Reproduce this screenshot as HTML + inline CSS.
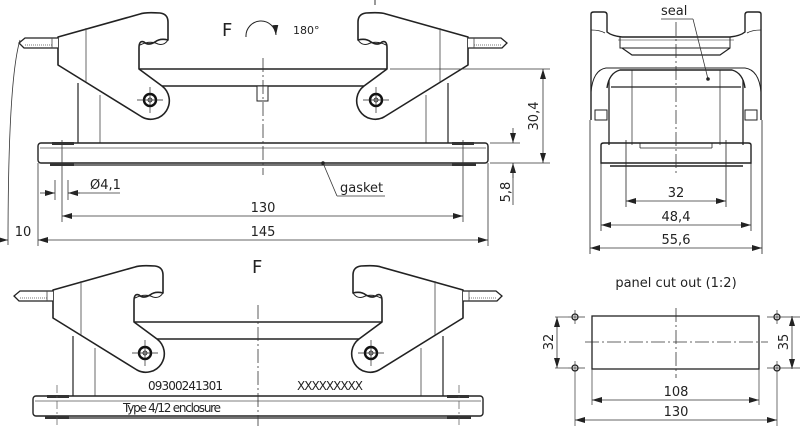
<!DOCTYPE html>
<html><head><meta charset="utf-8"><style>
html,body{margin:0;padding:0;background:#fff;}
svg{display:block;}
text{font-family:"DejaVu Sans","Liberation Sans",sans-serif;fill:#222;}
</style></head><body>
<svg width="800" height="426" viewBox="0 0 800 426" xmlns="http://www.w3.org/2000/svg">
<defs>
<marker id="a" viewBox="0 0 10 6" refX="10" refY="3" markerWidth="10" markerHeight="6" orient="auto-start-reverse" markerUnits="userSpaceOnUse"><path d="M0,0 L10,3 L0,6 z" fill="#222"/></marker>
<g id="lever">
<path d="M58,37 L140,14 Q145,12 160,13 Q168,14 168,22 L168,40 Q160,38 155,42 Q148,46 144,42 Q139,40 139,48 L139,69 L162,86 A18.5,18.5 0 0 1 142,117 L58,65 Z" fill="#fff" stroke="#222" stroke-width="1.6" stroke-linejoin="round"/>
<path d="M140,45 Q150,40 158,44 Q164,46 168,40" fill="none" stroke="#222" stroke-width="1"/>
<line x1="86" y1="28" x2="86" y2="82" stroke="#444" stroke-width="0.8"/>
<path d="M58,38 L25,38 L19,43 L24,48 L58,48" fill="#fff" stroke="#222" stroke-width="1.3"/>
<line x1="25" y1="45" x2="52" y2="45" stroke="#777" stroke-width="1" stroke-dasharray="1 1"/>
<line x1="52" y1="38" x2="52" y2="48" stroke="#444" stroke-width="0.8"/>
<circle cx="150" cy="100" r="6" fill="none" stroke="#111" stroke-width="2.4"/>
<circle cx="150" cy="100" r="2" fill="none" stroke="#111" stroke-width="0.8"/>
<line x1="137" y1="100" x2="163" y2="100" stroke="#222" stroke-width="0.7"/>
<line x1="150" y1="87" x2="150" y2="113" stroke="#222" stroke-width="0.7"/>
</g>
<g id="enc">
<line x1="78" y1="83" x2="78" y2="143" stroke="#222" stroke-width="1.2"/>
<line x1="100" y1="95" x2="100" y2="143" stroke="#444" stroke-width="0.8"/>
<line x1="448" y1="83" x2="448" y2="143" stroke="#222" stroke-width="1.2"/>
<line x1="426" y1="95" x2="426" y2="143" stroke="#444" stroke-width="0.8"/>
<line x1="139" y1="69" x2="387" y2="69" stroke="#222" stroke-width="1.6"/>
<line x1="160" y1="86" x2="366" y2="86" stroke="#222" stroke-width="1.6"/>
<use href="#lever"/>
<use href="#lever" transform="matrix(-1,0,0,1,526,0)"/>
<rect x="38" y="143" width="450" height="20" rx="3" fill="none" stroke="#222" stroke-width="1.4"/>
<line x1="40" y1="148" x2="486" y2="148" stroke="#555" stroke-width="0.7"/>
<line x1="50" y1="165" x2="476" y2="165" stroke="#222" stroke-width="1.2"/>
<rect x="50" y="163" width="24" height="3" fill="#333"/>
<rect x="452" y="163" width="24" height="3" fill="#333"/>
<rect x="52" y="142" width="22" height="3" fill="#333"/>
<rect x="452" y="142" width="22" height="3" fill="#333"/>
</g>
</defs>

<!-- TOP VIEW -->
<use href="#enc"/>
<rect x="257" y="86" width="11" height="15" fill="#fff" stroke="#222" stroke-width="1"/>
<line x1="263" y1="58" x2="263" y2="175" stroke="#333" stroke-width="0.8" stroke-dasharray="14 3 2 3"/>
<line x1="375" y1="0" x2="375" y2="5" stroke="#333" stroke-width="1"/>
<text x="222" y="36" font-size="18">F</text>
<path d="M246,37 A11,11 0 0 1 276,35" fill="none" stroke="#222" stroke-width="1" marker-end="url(#a)"/>
<text x="293" y="34" font-size="11">180°</text>
<!-- dims top -->
<path d="M20,40 Q8,80 8,245" fill="none" stroke="#333" stroke-width="0.8"/>
<line x1="38" y1="163" x2="38" y2="246" stroke="#333" stroke-width="0.8"/>
<line x1="488" y1="163" x2="488" y2="246" stroke="#333" stroke-width="0.8"/>
<line x1="62" y1="140" x2="62" y2="222" stroke="#333" stroke-width="0.8"/>
<line x1="463" y1="140" x2="463" y2="222" stroke="#333" stroke-width="0.8"/>
<line x1="55" y1="180" x2="55" y2="200" stroke="#333" stroke-width="0.8"/>
<line x1="68" y1="180" x2="68" y2="200" stroke="#333" stroke-width="0.8"/>
<line x1="40" y1="193" x2="55" y2="193" stroke="#333" stroke-width="0.8" marker-end="url(#a)"/>
<line x1="80" y1="193" x2="68" y2="193" stroke="#333" stroke-width="0.8" marker-end="url(#a)"/>
<line x1="68" y1="193" x2="120" y2="193" stroke="#333" stroke-width="0.8"/>
<text x="90" y="189" font-size="13">Ø4,1</text>
<line x1="62" y1="216" x2="463" y2="216" stroke="#333" stroke-width="0.8" marker-start="url(#a)" marker-end="url(#a)"/>
<text x="263" y="212" font-size="13" text-anchor="middle">130</text>
<line x1="38" y1="240" x2="488" y2="240" stroke="#333" stroke-width="0.8" marker-start="url(#a)" marker-end="url(#a)"/>
<text x="263" y="236" font-size="13" text-anchor="middle">145</text>
<line x1="0" y1="240" x2="8" y2="240" stroke="#333" stroke-width="0.8" marker-end="url(#a)"/>
<text x="23" y="236" font-size="13" text-anchor="middle">10</text>
<line x1="323" y1="163" x2="337" y2="196" stroke="#333" stroke-width="0.8"/>
<circle cx="323" cy="163" r="1.8" fill="#222"/>
<line x1="337" y1="196" x2="385" y2="196" stroke="#333" stroke-width="0.8"/>
<text x="340" y="192" font-size="13">gasket</text>
<line x1="390" y1="69" x2="550" y2="69" stroke="#333" stroke-width="0.8"/>
<line x1="490" y1="163" x2="550" y2="163" stroke="#333" stroke-width="0.8"/>
<line x1="490" y1="143" x2="520" y2="143" stroke="#333" stroke-width="0.8"/>
<line x1="543" y1="69" x2="543" y2="163" stroke="#333" stroke-width="0.8" marker-start="url(#a)" marker-end="url(#a)"/>
<text transform="translate(538,116) rotate(-90)" font-size="13" text-anchor="middle">30,4</text>
<line x1="513" y1="128" x2="513" y2="143" stroke="#333" stroke-width="0.8" marker-end="url(#a)"/>
<line x1="513" y1="178" x2="513" y2="163" stroke="#333" stroke-width="0.8" marker-end="url(#a)"/>
<line x1="513" y1="163" x2="513" y2="205" stroke="#333" stroke-width="0.8"/>
<text transform="translate(510,192) rotate(-90)" font-size="13" text-anchor="middle">5,8</text>

<!-- SIDE VIEW -->
<g stroke="#222" fill="none">
<path d="M591,120 L591,14 Q591,12 594,12 L604,12 Q607,12 607,15 L607,32 Q612,36 622,37 L730,37 Q740,36 745,32 L745,15 Q745,12 748,12 L758,12 Q761,12 761,14 L761,120" stroke-width="1.4"/>
<path d="M591,30 Q600,30 605,33" stroke-width="0.8"/>
<path d="M761,30 Q752,30 747,33" stroke-width="0.8"/>
<path d="M620,37 L620,48 L730,48 L730,37" stroke-width="1"/>
<path d="M622,48 L632,55 L720,55 L730,48" stroke-width="1.2"/>
<line x1="618" y1="40" x2="734" y2="40" stroke-width="0.6"/>
<path d="M591,92 Q593,70 606,68 L745,68 Q759,70 761,92" stroke-width="1"/>
<path d="M607,88 Q609,73 620,70 L732,70 Q743,73 745,88" stroke-width="1.4"/>
<line x1="611" y1="87" x2="741" y2="87" stroke-width="1.2"/>
<line x1="609" y1="80" x2="609" y2="145" stroke-width="1.3"/>
<line x1="743" y1="80" x2="743" y2="145" stroke-width="1.3"/>
<line x1="632" y1="70" x2="632" y2="145" stroke-width="0.7"/>
<line x1="720" y1="70" x2="720" y2="145" stroke-width="0.7"/>
<rect x="595" y="110" width="12" height="10" stroke-width="1"/>
<rect x="745" y="110" width="12" height="10" stroke-width="1"/>
<path d="M601,145 L601,163 L751,163 L751,145 Q751,143 748,143 L604,143 Q601,143 601,145 Z" stroke-width="1.4"/>
<line x1="640" y1="143" x2="640" y2="148" stroke-width="0.8"/>
<line x1="640" y1="148" x2="712" y2="148" stroke-width="0.8"/>
<line x1="712" y1="143" x2="712" y2="148" stroke-width="0.8"/>
<line x1="610" y1="166" x2="743" y2="166" stroke-width="1.4"/>
<line x1="626" y1="140" x2="626" y2="207" stroke-width="0.8"/>
<line x1="726" y1="140" x2="726" y2="207" stroke-width="0.8"/>
<line x1="601" y1="163" x2="601" y2="231" stroke-width="0.8"/>
<line x1="751" y1="163" x2="751" y2="231" stroke-width="0.8"/>
<line x1="590" y1="120" x2="590" y2="254" stroke-width="0.8"/>
<line x1="762" y1="120" x2="762" y2="254" stroke-width="0.8"/>
</g>
<line x1="676" y1="22" x2="676" y2="176" stroke="#333" stroke-width="0.8" stroke-dasharray="14 3 2 3"/>
<line x1="626" y1="201" x2="726" y2="201" stroke="#333" stroke-width="0.8" marker-start="url(#a)" marker-end="url(#a)"/>
<text x="676" y="197" font-size="13" text-anchor="middle">32</text>
<line x1="601" y1="225" x2="751" y2="225" stroke="#333" stroke-width="0.8" marker-start="url(#a)" marker-end="url(#a)"/>
<text x="676" y="221" font-size="13" text-anchor="middle">48,4</text>
<line x1="590" y1="248" x2="762" y2="248" stroke="#333" stroke-width="0.8" marker-start="url(#a)" marker-end="url(#a)"/>
<text x="676" y="244" font-size="13" text-anchor="middle">55,6</text>
<text x="661" y="15" font-size="13">seal</text>
<line x1="661" y1="19" x2="693" y2="19" stroke="#333" stroke-width="0.8"/>
<line x1="693" y1="19" x2="708" y2="79" stroke="#333" stroke-width="0.8"/>
<circle cx="708" cy="79" r="1.8" fill="#222"/>

<!-- BOTTOM VIEW -->
<g transform="translate(-5,253)">
<use href="#enc"/>
</g>
<line x1="258" y1="305" x2="258" y2="426" stroke="#333" stroke-width="0.8" stroke-dasharray="14 3 2 3"/>
<line x1="57" y1="385" x2="57" y2="426" stroke="#555" stroke-width="0.7" stroke-dasharray="8 3 2 3"/>
<line x1="459" y1="385" x2="459" y2="426" stroke="#555" stroke-width="0.7" stroke-dasharray="8 3 2 3"/>
<text x="252" y="273" font-size="18">F</text>
<text x="148" y="390" font-size="12" font-family="Liberation Sans" textLength="75">09300241301</text>
<text x="297" y="390" font-size="12" font-family="Liberation Sans" textLength="66">XXXXXXXXX</text>
<text x="123" y="412" font-size="12" font-family="Liberation Sans" textLength="98">Type 4/12 enclosure</text>

<!-- PANEL CUTOUT -->
<text x="676" y="287" font-size="13" text-anchor="middle">panel cut out (1:2)</text>
<rect x="592" y="316" width="167" height="53" fill="none" stroke="#222" stroke-width="1.3"/>
<line x1="585" y1="342" x2="768" y2="342" stroke="#333" stroke-width="0.8" stroke-dasharray="14 3 2 3"/>
<line x1="676" y1="308" x2="676" y2="378" stroke="#333" stroke-width="0.8" stroke-dasharray="14 3 2 3"/>
<g fill="#fff" stroke="#222" stroke-width="1.3">
<circle cx="575" cy="317" r="3"/><circle cx="575" cy="368" r="3"/>
<circle cx="777" cy="317" r="3"/><circle cx="777" cy="368" r="3"/>
</g>
<g stroke="#333" stroke-width="0.7">
<line x1="568" y1="317" x2="585" y2="317"/><line x1="575" y1="310" x2="575" y2="324"/>
<line x1="568" y1="368" x2="585" y2="368"/><line x1="575" y1="361" x2="575" y2="426"/>
<line x1="767" y1="317" x2="800" y2="317"/><line x1="777" y1="310" x2="777" y2="324"/>
<line x1="767" y1="368" x2="800" y2="368"/><line x1="777" y1="361" x2="777" y2="426"/>
<line x1="555" y1="317" x2="568" y2="317"/><line x1="555" y1="368" x2="568" y2="368"/>
<line x1="592" y1="369" x2="592" y2="405"/><line x1="759" y1="369" x2="759" y2="405"/>
</g>
<line x1="557" y1="317" x2="557" y2="368" stroke="#333" stroke-width="0.8" marker-start="url(#a)" marker-end="url(#a)"/>
<text transform="translate(553,342) rotate(-90)" font-size="13" text-anchor="middle">32</text>
<line x1="792" y1="316" x2="792" y2="369" stroke="#333" stroke-width="0.8" marker-start="url(#a)" marker-end="url(#a)"/>
<text transform="translate(788,342) rotate(-90)" font-size="13" text-anchor="middle">35</text>
<line x1="592" y1="400" x2="759" y2="400" stroke="#333" stroke-width="0.8" marker-start="url(#a)" marker-end="url(#a)"/>
<text x="676" y="396" font-size="13" text-anchor="middle">108</text>
<line x1="575" y1="420" x2="777" y2="420" stroke="#333" stroke-width="0.8" marker-start="url(#a)" marker-end="url(#a)"/>
<text x="676" y="416" font-size="13" text-anchor="middle">130</text>
</svg>
</body></html>
